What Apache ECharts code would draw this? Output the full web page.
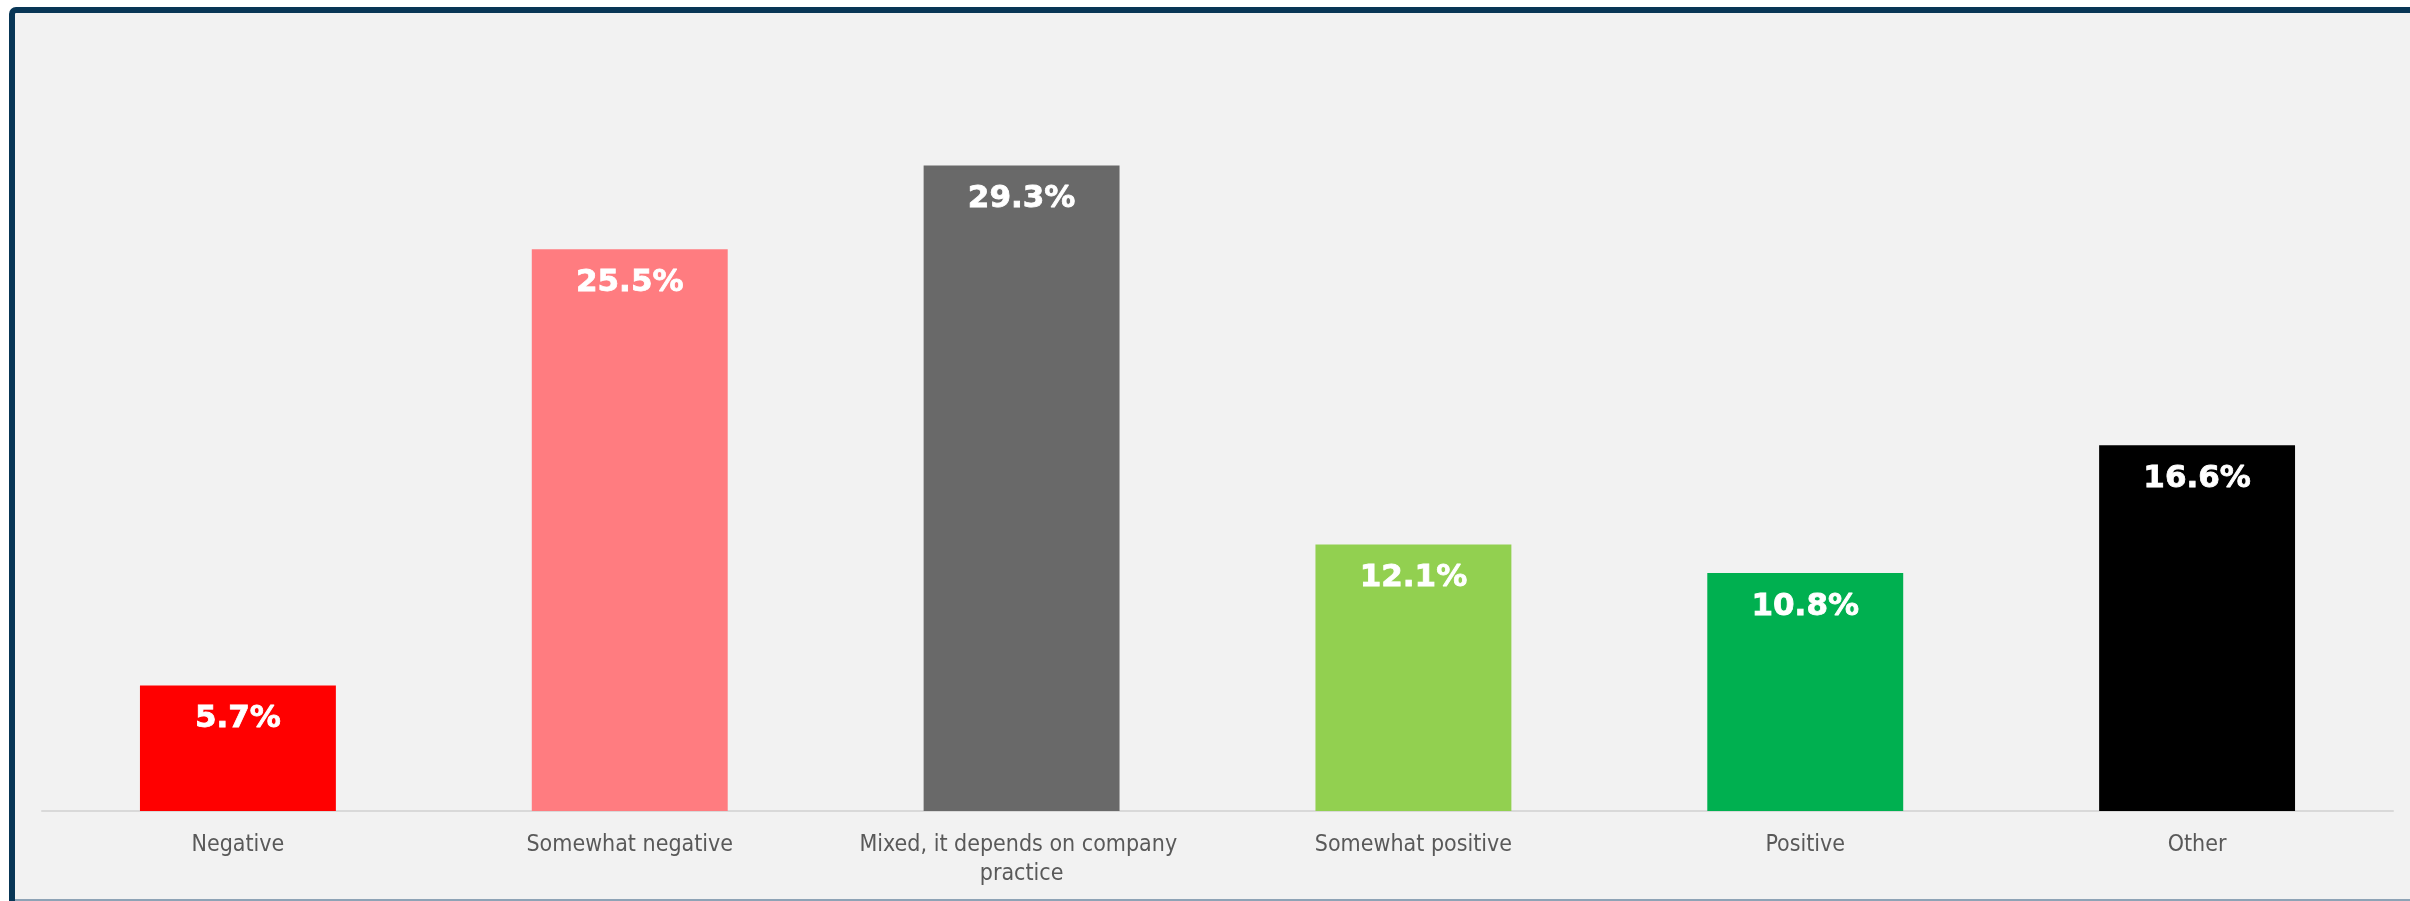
<!DOCTYPE html>
<html>
<head>
<meta charset="utf-8">
<script src="https://cdn.jsdelivr.net/npm/echarts@6/dist/echarts.min.js"></script>
<style>
  html, body { margin: 0; padding: 0; background: #ffffff; }
  #chart { width: 2410px; height: 901px; }
</style>
</head>
<body>
<div id="chart"></div>
<script>
// Survey answers and their shares (%)
const categories = [
  'Negative',
  'Somewhat negative',
  'Mixed, it depends on company practice',
  'Somewhat positive',
  'Positive',
  'Other'
];
const shares = [5.7, 25.5, 29.3, 12.1, 10.8, 16.6];
const barColors = ['#FF0000', '#FF7C80', '#696969', '#92D050', '#00B050', '#000000'];

const chart = echarts.init(document.getElementById('chart'), null, { renderer: 'canvas' });

const labelFont = '"DejaVu Sans Condensed", "DejaVu Sans", Verdana, sans-serif';

chart.setOption({
  backgroundColor: '#ffffff',
  animation: false,
  graphic: [
    {
      // framed panel
      type: 'rect',
      z: -10,
      silent: true,
      shape: { x: 12, y: 10, width: 2440, height: 960, r: 4 },
      style: { fill: '#f2f2f2', stroke: '#083656', lineWidth: 6 }
    },
    {
      type: 'rect',
      z: -9,
      silent: true,
      shape: { x: 15, y: 899, width: 2400, height: 2 },
      style: { fill: '#8ea3b6' }
    }
  ],
  grid: { left: 42, right: 17, top: 150, bottom: 90, containLabel: false },
  xAxis: {
    type: 'category',
    data: categories,
    axisLine: { show: true, lineStyle: { color: '#d9d9d9', width: 2 } },
    axisTick: { show: false },
    axisLabel: {
      interval: 0,
      margin: 20,
      color: '#595959',
      fontSize: 23,
      lineHeight: 29,
      fontFamily: labelFont,
      width: 360,
      overflow: 'break'
    }
  },
  yAxis: {
    type: 'value',
    min: 0,
    max: 30,
    show: false,
    splitLine: { show: false }
  },
  series: [{
    type: 'bar',
    barWidth: '50%',
    data: shares.map((v, i) => ({ value: v, itemStyle: { color: barColors[i] } })),
    label: {
      show: true,
      position: 'insideTop',
      distance: 18,
      color: '#ffffff',
      fontWeight: 'bold',
      fontSize: 31,
      fontFamily: '"DejaVu Sans", Verdana, sans-serif',
      textBorderColor: '#ffffff',
      textBorderWidth: 0.8,
      formatter: p => p.value.toFixed(1) + '%'
    }
  }]
});
</script>
</body>
</html>
